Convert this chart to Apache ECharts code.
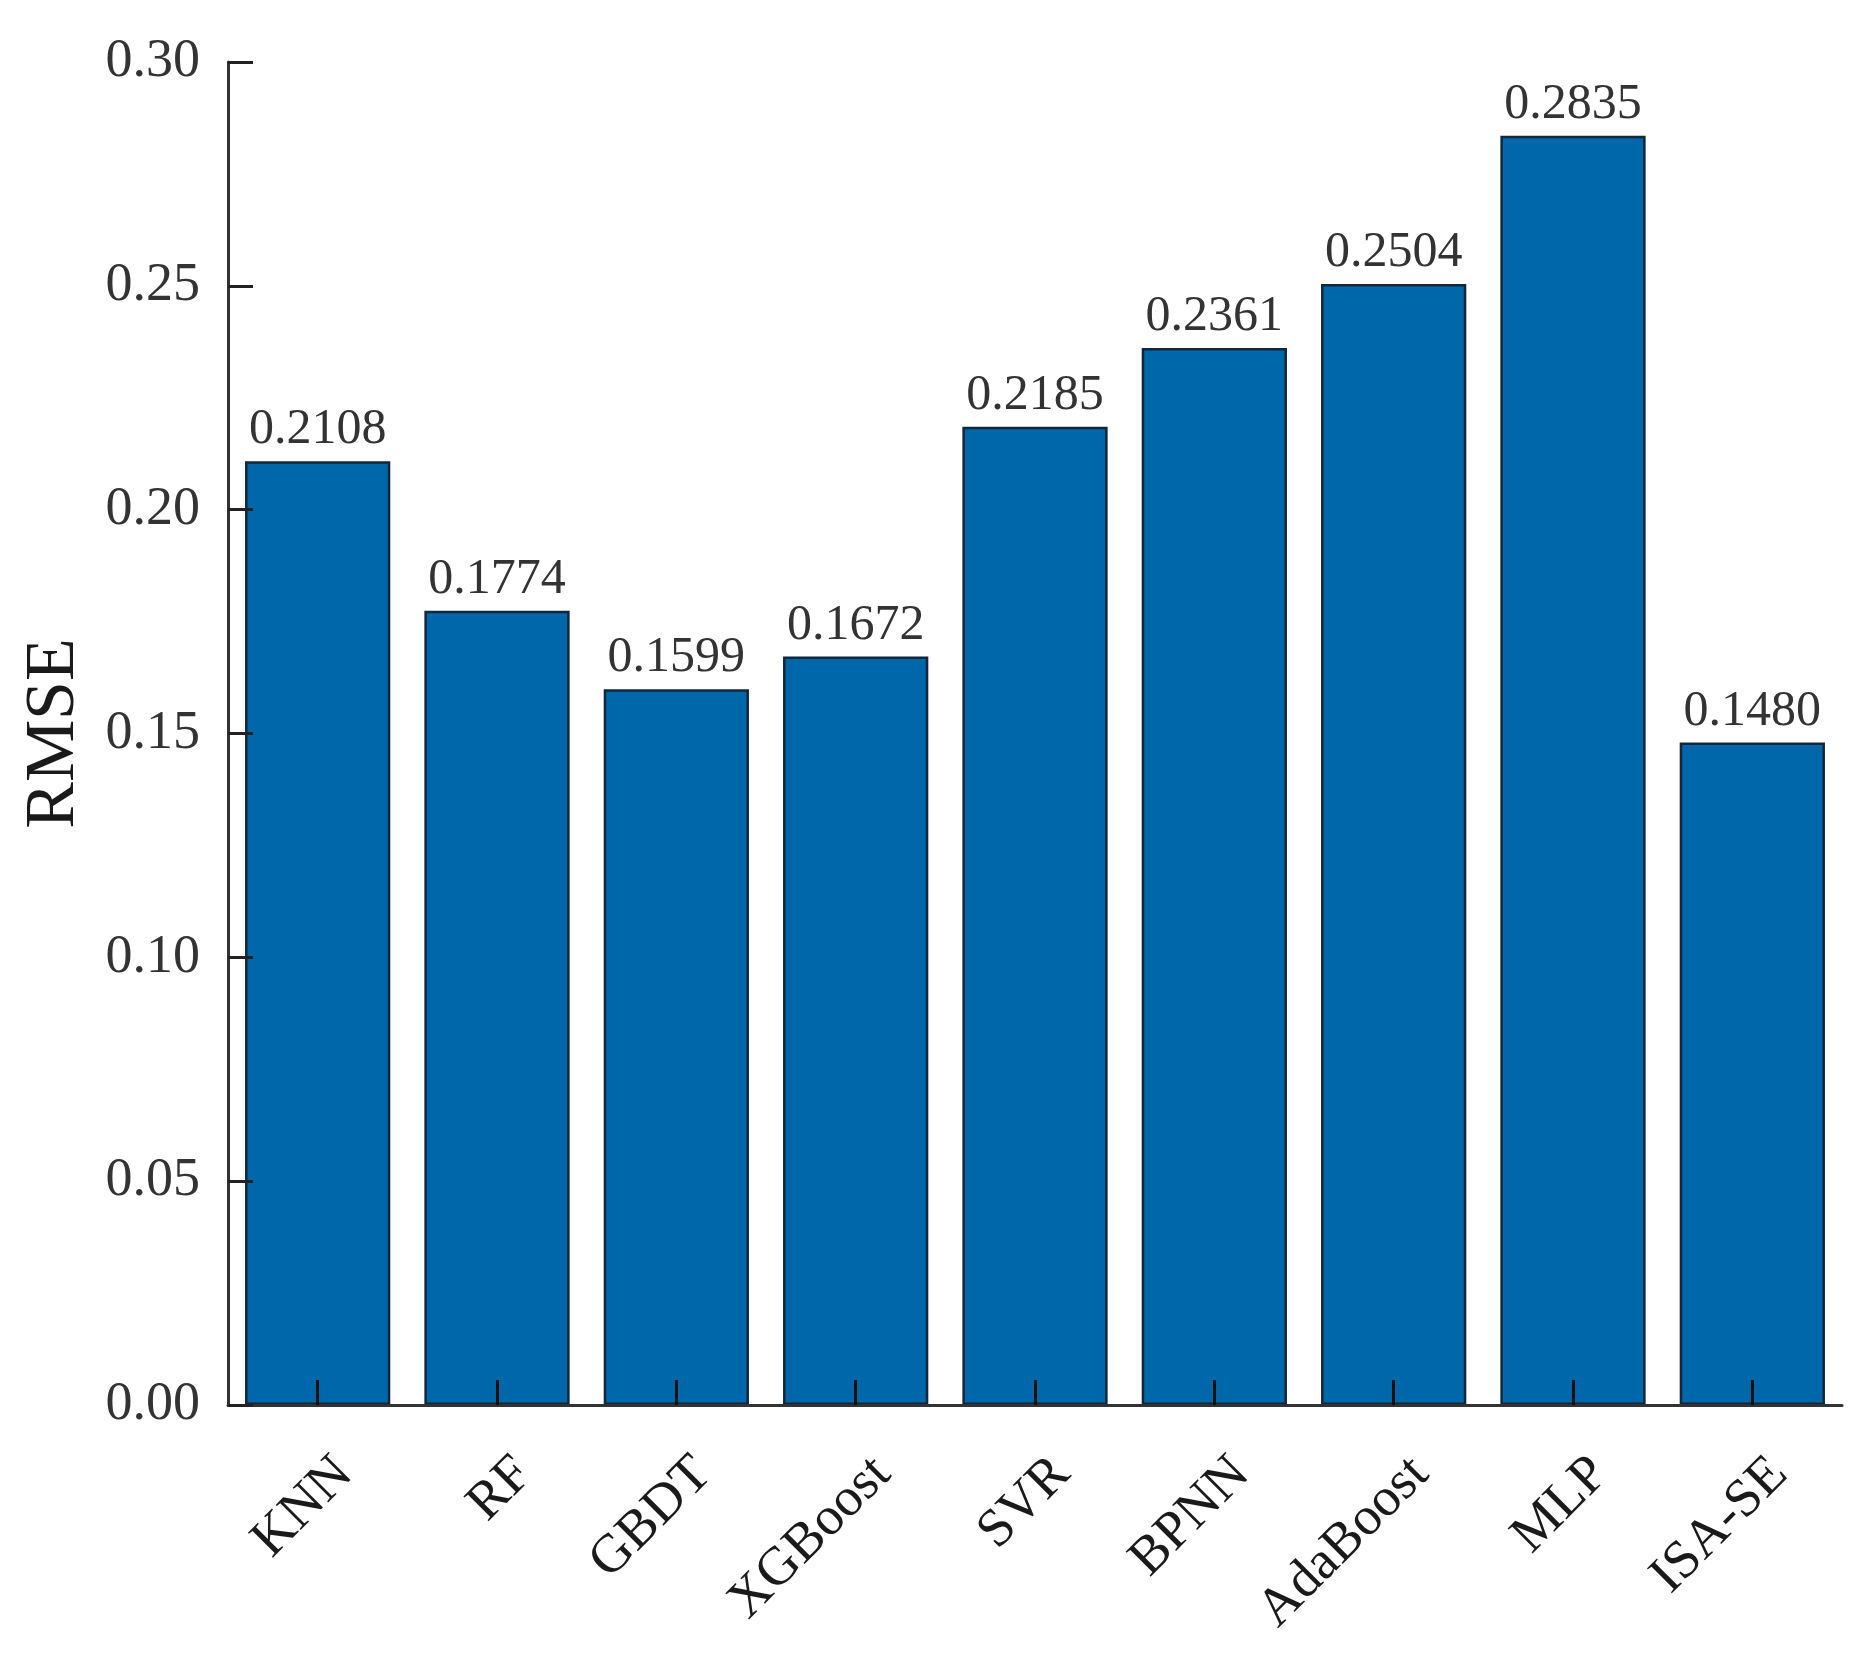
<!DOCTYPE html>
<html>
<head>
<meta charset="utf-8">
<script src="https://cdn.jsdelivr.net/npm/echarts@6/dist/echarts.min.js"></script>
<style>
html,body{margin:0;padding:0;background:#fff;}
#chart{width:1876px;height:1660px;}
</style>
</head>
<body>
<div id="chart"></div>
<script>
var categories = ['KNN', 'RF', 'GBDT', 'XGBoost', 'SVR', 'BPNN', 'AdaBoost', 'MLP', 'ISA-SE'];
var rmseValues = [0.2108, 0.1774, 0.1599, 0.1672, 0.2185, 0.2361, 0.2504, 0.2835, 0.1480];
var yAxisName = 'RMSE';

var FONT = "'Liberation Serif', 'Times New Roman', serif";
var chart = echarts.init(document.getElementById('chart'), null, {renderer: 'canvas'});
chart.setOption({
  backgroundColor: '#ffffff',
  animation: false,
  grid: {left: 228, right: 34, top: 62, bottom: 255, containLabel: false, outerBoundsMode: 'none'},
  xAxis: {
    type: 'category',
    data: categories,
    boundaryGap: true,
    z: 5,
    axisLine: {show: true, lineStyle: {color: '#333', width: 3}},
    axisTick: {show: true, inside: true, alignWithLabel: true, length: 25, lineStyle: {color: '#111', width: 3}},
    axisLabel: {
      rotate: 45, interval: 0, margin: 34,
      align: 'right', verticalAlign: 'top',
      padding: [11, 0, 0, 0],
      fontFamily: FONT, fontSize: 54, color: '#1a1a1a'
    },
    splitLine: {show: false}
  },
  yAxis: {
    type: 'value',
    min: 0, max: 0.3, interval: 0.05,
    z: 5,
    name: yAxisName,
    nameLocation: 'middle',
    nameGap: 138,
    nameTextStyle: {fontFamily: FONT, fontSize: 70, color: '#1a1a1a'},
    axisLine: {show: true, lineStyle: {color: '#333', width: 3}},
    axisTick: {show: true, inside: true, length: 25, lineStyle: {color: '#222', width: 3}},
    axisLabel: {
      margin: 28, fontFamily: FONT, fontSize: 54, color: '#333',
      formatter: function (v) { return v.toFixed(2); }
    },
    splitLine: {show: false}
  },
  series: [{
    type: 'bar',
    data: rmseValues,
    barWidth: '81%',
    itemStyle: {color: '#0067ab', borderColor: '#12273a', borderWidth: 2.5},
    label: {
      show: true, position: 'top', distance: 6,
      fontFamily: FONT, fontSize: 50, color: '#333',
      formatter: function (p) { return p.value.toFixed(4); }
    }
  }]
});
</script>
</body>
</html>
